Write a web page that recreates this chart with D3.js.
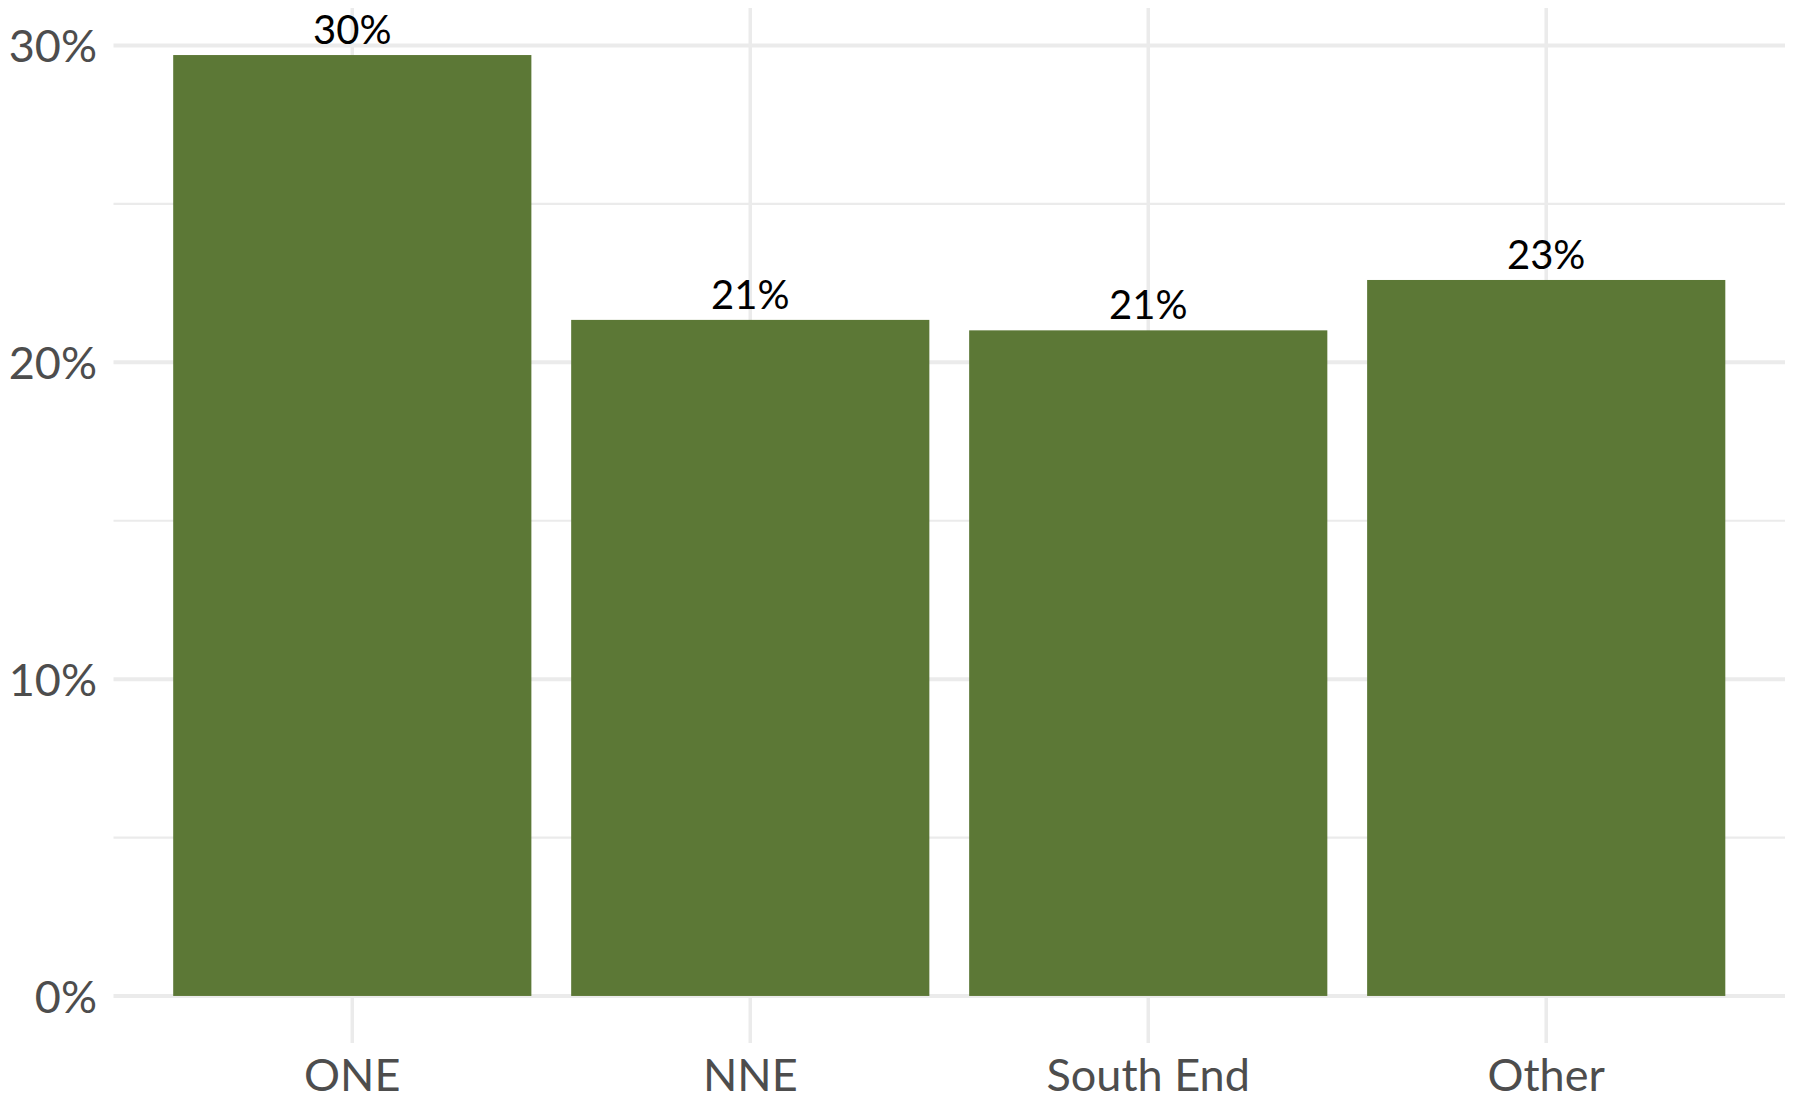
<!DOCTYPE html>
<html lang="en">
<head>
    <meta charset="UTF-8">
    <title>Share by area</title>
    <script src="https://d3js.org/d3.v7.min.js"></script>
    <style>
        body { margin: 0; background: #fff; }
        .grid line { stroke: #ebebeb; }
        .tick-label {
            font-family: Lato, "Open Sans", sans-serif;
            font-size: 45px;
            fill: #4d4d4d;
        }
        .bar-label {
            font-family: Lato, "Open Sans", sans-serif;
            font-size: 40px;
            fill: #000;
        }
    </style>
</head>
<body>
<svg width="1793" height="1103"></svg>

<script>
    // Values (percent)
    const categories = ["ONE", "NNE", "South End", "Other"];
    const shares = [29.7, 21.34, 21.01, 22.6];
    const labels = ["30%", "21%", "21%", "23%"];
    const majorTicks = [0, 10, 20, 30];
    const minorTicks = [5, 15, 25];

    const width = 1793;
    const height = 1103;
    const panel = { left: 113.5, right: 1785, top: 8, bottom: 1043 };

    const svg = d3.select("svg")
        .attr("width", width)
        .attr("height", height);

    // ggplot-style expansion: 5% of the data range on both ends
    const maxVal = d3.max(shares);
    const pad = maxVal * 0.05;
    const y = d3.scaleLinear()
        .domain([-pad, maxVal + pad])
        .range([panel.bottom, panel.top]);

    const x = d3.scaleBand()
        .domain(categories)
        .range([panel.left, panel.right])
        .paddingInner(0.1)
        .paddingOuter(0.15);

    const grid = svg.append("g").attr("class", "grid");

    // minor horizontal grid
    grid.selectAll("line.minor")
        .data(minorTicks)
        .enter().append("line")
        .attr("class", "minor")
        .attr("x1", panel.left).attr("x2", panel.right)
        .attr("y1", d => y(d)).attr("y2", d => y(d))
        .attr("stroke-width", 2.2);

    // major horizontal grid
    grid.selectAll("line.major")
        .data(majorTicks)
        .enter().append("line")
        .attr("class", "major")
        .attr("x1", panel.left).attr("x2", panel.right)
        .attr("y1", d => y(d)).attr("y2", d => y(d))
        .attr("stroke-width", 4);

    // vertical grid at category centres
    grid.selectAll("line.vert")
        .data(categories)
        .enter().append("line")
        .attr("class", "vert")
        .attr("x1", d => x(d) + x.bandwidth() / 2)
        .attr("x2", d => x(d) + x.bandwidth() / 2)
        .attr("y1", panel.top).attr("y2", panel.bottom)
        .attr("stroke-width", 3.5);

    // bars
    svg.append("g")
        .selectAll("rect")
        .data(categories)
        .enter().append("rect")
        .attr("x", d => x(d))
        .attr("width", x.bandwidth())
        .attr("y", (d, i) => y(shares[i]))
        .attr("height", (d, i) => y(0) - y(shares[i]))
        .attr("fill", "#5c7836");

    // bar value labels
    svg.append("g")
        .selectAll("text")
        .data(categories)
        .enter().append("text")
        .attr("class", "bar-label")
        .attr("x", d => x(d) + x.bandwidth() / 2)
        .attr("y", (d, i) => y(shares[i]) - 11)
        .attr("text-anchor", "middle")
        .text((d, i) => labels[i]);

    // y axis labels
    const yAxis = d3.axisLeft(y)
        .tickValues(majorTicks)
        .tickSize(0)
        .tickPadding(0)
        .tickFormat(d => d + "%");
    const gy = svg.append("g")
        .attr("transform", "translate(97,0)")
        .call(yAxis);
    gy.select(".domain").remove();
    gy.selectAll("text")
        .attr("class", "tick-label")
        .attr("dy", "0.36em")
        .attr("font-size", null)
        .attr("font-family", null)
        .attr("fill", null);

    // x axis labels
    const xAxis = d3.axisBottom(x)
        .tickSize(0)
        .tickPadding(0);
    const gx = svg.append("g")
        .attr("transform", "translate(0,1091)")
        .call(xAxis);
    gx.select(".domain").remove();
    gx.selectAll("text")
        .attr("class", "tick-label")
        .attr("dy", 0)
        .attr("font-size", null)
        .attr("font-family", null)
        .attr("fill", null);
</script>
</body>
</html>
